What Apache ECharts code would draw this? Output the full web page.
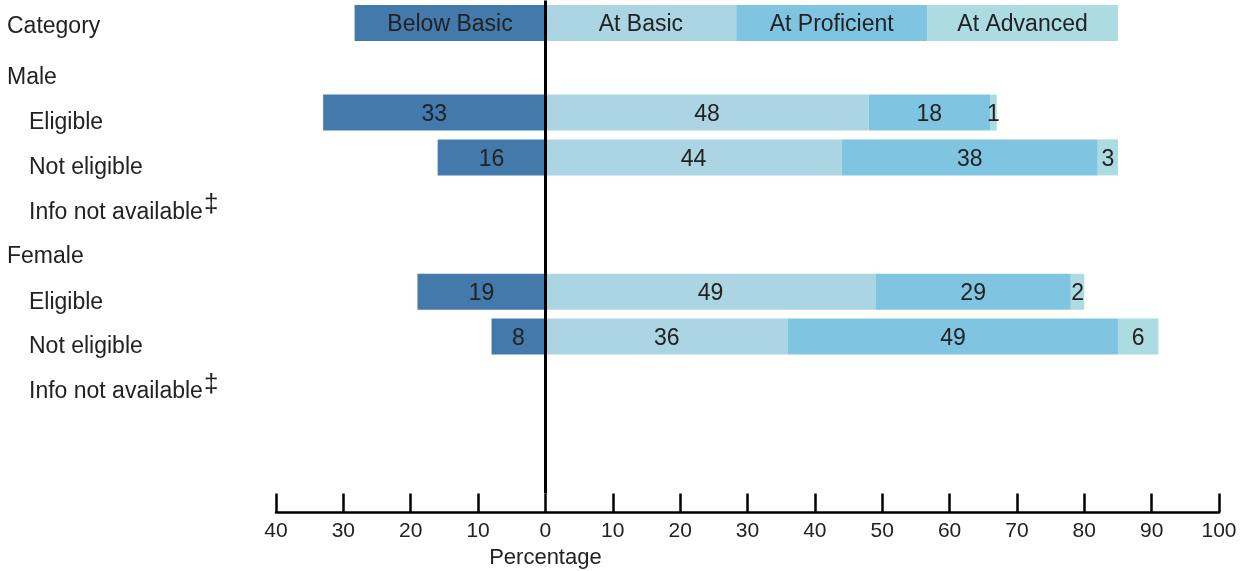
<!DOCTYPE html>
<html>
<head>
<meta charset="utf-8">
<script src="https://cdn.jsdelivr.net/npm/echarts@6/dist/echarts.min.js"></script>
<style>
html,body{margin:0;padding:0;background:#fff;}
#chart{width:1251px;height:571px;}
</style>
</head>
<body>
<div id="chart"></div>
<script>
// ---- Data ----
const categories = ['Category', 'Male', 'Eligible', 'Not eligible', 'Info not available‡',
                    'Female', 'Eligible', 'Not eligible', 'Info not available‡', '', ''];
const indented = [false, false, true, true, true, false, true, true, true, false, false];
const seriesNames = ['Below Basic', 'At Basic', 'At Proficient', 'At Advanced'];
const belowBasic   = [null, null, 33, 16, null, null, 19, 8, null, null, null];
const atBasic      = [null, null, 48, 44, null, null, 49, 36, null, null, null];
const atProficient = [null, null, 18, 38, null, null, 29, 49, null, null, null];
const atAdvanced   = [null, null, 1, 3, null, null, 2, 6, null, null, null];
const xTicks = { min: -40, max: 100, interval: 10 };

// legend row (row 0) drawn as a stacked bar spanning 0..85, split evenly
const legendSpan = 85 / 3;
const colors = ['#4479ab', '#acd5e3', '#7fc5e1', '#addbe2'];
const FONT = 'Liberation Sans, Arial, sans-serif';

function build(arr, sign) {
  return arr.map((v, i) => {
    if (i === 0) return sign * legendSpan;
    return v == null ? null : sign * v;
  });
}
const seriesData = [build(belowBasic, -1), build(atBasic, 1), build(atProficient, 1), build(atAdvanced, 1)];

const chart = echarts.init(document.getElementById('chart'), null, { renderer: 'canvas' });

const series = seriesNames.map((name, k) => ({
  name: name,
  type: 'bar',
  stack: 'total',
  barWidth: 36,
  data: seriesData[k],
  itemStyle: { color: colors[k] },
  label: {
    show: true,
    position: 'inside',
    offset: [0, 2],
    color: '#222',
    fontFamily: FONT,
    fontSize: 23,
    formatter: p => p.dataIndex === 0 ? p.seriesName : String(Math.abs(p.value))
  },
  markLine: k === 3 ? {
    silent: true,
    symbol: 'none',
    label: { show: false },
    lineStyle: { color: '#000', width: 3, type: 'solid' },
    data: [{ xAxis: 0 }]
  } : undefined
}));

const option = {
  animation: false,
  backgroundColor: '#fff',
  grid: { left: 276, right: 32, top: 0.6, height: 44.8 * categories.length },
  xAxis: {
    type: 'value',
    min: xTicks.min, max: xTicks.max, interval: xTicks.interval,
    offset: 19,
    splitLine: { show: false },
    axisLine: { show: true, lineStyle: { color: '#000', width: 2.5 } },
    axisTick: { show: true, inside: true, length: 19, lineStyle: { color: '#000', width: 2.5 } },
    axisLabel: {
      color: '#222', fontFamily: FONT, fontSize: 21, margin: 8,
      formatter: v => String(Math.abs(v))
    }
  },
  yAxis: {
    type: 'category',
    inverse: true,
    data: categories,
    axisLine: { show: false },
    axisTick: { show: false },
    axisLabel: {
      align: 'left',
      margin: 269,
      color: '#222',
      fontFamily: FONT,
      fontSize: 23,
      formatter: (v, i) => {
        if (!v) return '';
        const hasDag = v.endsWith('‡');
        const txt = hasDag ? v.slice(0, -1) : v;
        let style = indented[i] ? 'ind' : (i === 0 ? 'cat' : 'top');
        let s = '{' + style + '|' + txt + '}';
        if (hasDag) s += '{dag|‡}';
        return s;
      },
      rich: {
        cat: { fontFamily: FONT, fontSize: 23, color: '#222', padding: [7, 0, 0, 0] },
        top: { fontFamily: FONT, fontSize: 23, color: '#222', padding: [19, 0, 0, 0] },
        ind: { fontFamily: FONT, fontSize: 23, color: '#222', padding: [21, 0, 0, 22] },
        dag: { fontFamily: FONT, fontSize: 26, color: '#222', padding: [6, 0, 0, 1] }
      }
    }
  },
  series: series
};
chart.setOption(option);

const zeroX = chart.convertToPixel({ xAxisIndex: 0 }, 0);
chart.setOption({
  graphic: [{
    type: 'text',
    x: zeroX,
    y: 558,
    style: {
      text: 'Percentage',
      fill: '#222',
      font: '22px ' + FONT,
      align: 'center',
      verticalAlign: 'middle'
    }
  }]
});
</script>
</body>
</html>
